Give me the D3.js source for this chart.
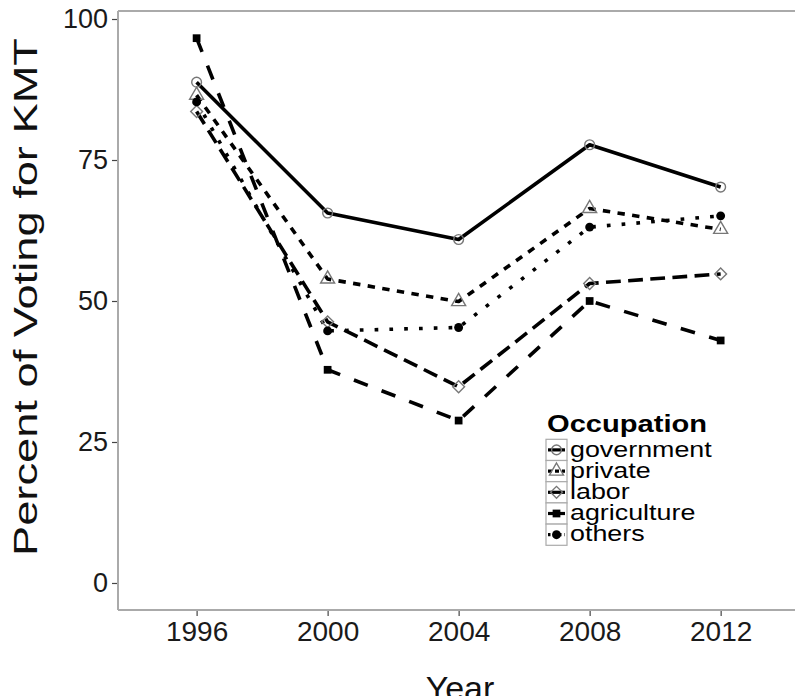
<!DOCTYPE html>
<html>
<head>
<meta charset="utf-8">
<script src="https://cdn.jsdelivr.net/npm/d3@7"></script>
<style>
  body { margin: 0; background: #fff; }
  text { font-family: "Liberation Sans", Arial, sans-serif; }
</style>
</head>
<body>
<svg id="chart"></svg>
<script>
const years = [1996, 2000, 2004, 2008, 2012];
const occupations = ["government", "private", "labor", "agriculture", "others"];

const government = [88.8, 65.6, 60.9, 77.7, 70.2];
const privateSector = [86.5, 53.9, 49.9, 66.4, 62.7];
const labor = [83.6, 46.3, 34.8, 53.1, 54.8];
const agriculture = [96.6, 37.8, 28.8, 50.0, 43.0];
const others = [85.3, 44.7, 45.3, 63.1, 65.1];

const yTicks = [0, 25, 50, 75, 100];

const seriesValues = [government, privateSector, labor, agriculture, others];

const width = 795;
const height = 696;
const panel = { left: 118, right: 795, top: 11, bottom: 610 };

const svg = d3.select("#chart")
    .attr("width", width)
    .attr("height", height);

const xScale = d3.scaleLinear()
    .domain([1993.6, 2014.27])
    .range([panel.left, panel.right]);

const yScale = d3.scaleLinear()
    .domain([-4.79, 101.42])
    .range([panel.bottom, panel.top]);

// ggplot style linetypes and shapes
const dashes = {
    government: null,
    private: "7.4,7.4",
    labor: "14.8,7.4",
    agriculture: "14.8,14.8",
    others: "3.7,11.1"
};

const shapes = {
    government: { type: d3.symbolCircle, size: 75, filled: false, rotate: 0 },
    private: { type: d3.symbolTriangle, size: 85, filled: false, rotate: 0 },
    labor: { type: d3.symbolSquare, size: 70, filled: false, rotate: 45 },
    agriculture: { type: d3.symbolSquare, size: 60, filled: true, rotate: 0 },
    others: { type: d3.symbolCircle, size: 62, filled: true, rotate: 0 }
};

// panel border (top) and axis lines
svg.append("line")
    .attr("x1", panel.left).attr("x2", panel.right)
    .attr("y1", panel.top).attr("y2", panel.top)
    .style("stroke", "#aaa").style("stroke-width", 2);

svg.append("line")
    .attr("x1", panel.left).attr("x2", panel.left)
    .attr("y1", panel.top).attr("y2", panel.bottom)
    .style("stroke", "#aaa").style("stroke-width", 2);

svg.append("line")
    .attr("x1", panel.left).attr("x2", panel.right)
    .attr("y1", panel.bottom).attr("y2", panel.bottom)
    .style("stroke", "#aaa").style("stroke-width", 2);

// y axis
const yAxis = svg.append("g")
    .attr("transform", `translate(${panel.left - 1}, 0)`)
    .call(d3.axisLeft(yScale).tickValues(yTicks).tickSize(5).tickPadding(4));
yAxis.select(".domain").remove();
yAxis.selectAll(".tick line").style("stroke", "#444").style("stroke-width", 1.2);
yAxis.selectAll("text")
    .style("font-size", "27px")
    .style("fill", "#1a1a1a");

// x axis
const xAxis = svg.append("g")
    .attr("transform", `translate(0, ${panel.bottom + 1})`)
    .call(d3.axisBottom(xScale).tickValues(years).tickFormat(d3.format("d")).tickSize(5).tickPadding(4));
xAxis.select(".domain").remove();
xAxis.selectAll(".tick line").style("stroke", "#444").style("stroke-width", 1.2);
xAxis.selectAll("text")
    .attr("dy", null)
    .attr("y", 30)
    .style("font-size", "28px")
    .style("fill", "#1a1a1a");

// axis titles
svg.append("text")
    .attr("transform", `translate(37, 297) rotate(-90)`)
    .attr("text-anchor", "middle")
    .attr("textLength", 518)
    .attr("lengthAdjust", "spacingAndGlyphs")
    .style("font-size", "33px")
    .style("fill", "#111")
    .text("Percent of Voting for KMT");

svg.append("text")
    .attr("x", 460)
    .attr("y", 700)
    .attr("text-anchor", "middle")
    .style("font-size", "34px")
    .style("fill", "#111")
    .text("Year");

// lines
const line = d3.line()
    .x(d => xScale(d.year))
    .y(d => yScale(d.value));

const series = occupations.map((name, i) => ({
    name: name,
    points: years.map((y, j) => ({ year: y, value: seriesValues[i][j] }))
}));

svg.append("g")
    .selectAll("path")
    .data(series)
    .enter().append("path")
    .attr("d", d => line(d.points))
    .style("fill", "none")
    .style("stroke", "#000")
    .style("stroke-width", 3.6)
    .style("stroke-dasharray", d => dashes[d.name])
    .style("stroke-linejoin", "round");

function drawShape(sel, name) {
    const s = shapes[name];
    sel.attr("d", d3.symbol().type(s.type).size(s.size))
        .style("fill", s.filled ? "#000" : "none")
        .style("stroke", s.filled ? "none" : "#777")
        .style("stroke-width", 1.4);
}

series.forEach(s => {
    svg.append("g")
        .selectAll("path")
        .data(s.points)
        .enter().append("path")
        .attr("transform", d => `translate(${xScale(d.year)}, ${yScale(d.value)}) rotate(${shapes[s.name].rotate})`)
        .call(drawShape, s.name);
});

// legend
const legend = svg.append("g").attr("transform", "translate(546, 0)");

legend.append("text")
    .attr("x", 1)
    .attr("y", 432)
    .attr("textLength", 160)
    .attr("lengthAdjust", "spacingAndGlyphs")
    .style("font-size", "24px")
    .style("font-weight", "bold")
    .style("fill", "#000")
    .text("Occupation");

const keyH = 21.2;
const keyTop = 439.3;

const items = legend.selectAll("g.item")
    .data(occupations)
    .enter().append("g")
    .attr("class", "item")
    .attr("transform", (d, i) => `translate(0, ${keyTop + i * keyH})`);

items.append("rect")
    .attr("width", 21)
    .attr("height", keyH)
    .style("fill", "#fff")
    .style("stroke", "#aaa")
    .style("stroke-width", 1.2);

items.append("line")
    .attr("x1", 2).attr("x2", 19)
    .attr("y1", keyH / 2).attr("y2", keyH / 2)
    .style("stroke", "#000")
    .style("stroke-width", 3.2)
    .style("stroke-dasharray", d => d === "private" ? "4,3" : d === "others" ? "2.5,3" : null);

items.append("path")
    .attr("transform", d => `translate(10.5, ${keyH / 2}) rotate(${shapes[d].rotate})`)
    .each(function (d) { d3.select(this).call(drawShape, d); });

items.append("text")
    .attr("x", 24)
    .attr("y", keyH / 2 + 6.7)
    .style("font-size", "22px")
    .style("fill", "#000")
    .text(d => d)
    .each(function () {
        const w = this.getComputedTextLength();
        d3.select(this)
            .attr("textLength", w * 1.22)
            .attr("lengthAdjust", "spacingAndGlyphs");
    });
</script>
</body>
</html>
